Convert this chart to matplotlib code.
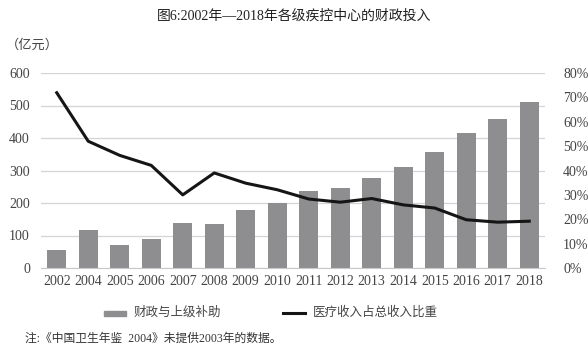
import numpy as np
import matplotlib.pyplot as plt

years = ["2002", "2004", "2005", "2006", "2007", "2008", "2009", "2010", "2011",
         "2012", "2013", "2014", "2015", "2016", "2017", "2018"]
subsidy = [55, 117, 70, 89, 138, 134, 179, 200, 237, 247, 277, 310, 356, 416, 460, 510]
med_share = [71.9, 52.0, 46.2, 42.1, 30.0, 39.0, 34.8, 32.1, 28.3, 27.0, 28.5,
             25.9, 24.6, 19.8, 18.8, 19.2]

plt.rcParams['font.family'] = ['Liberation Serif', 'Noto Sans CJK SC']

fig = plt.figure(figsize=(5.88, 3.58), dpi=100)
ax = fig.add_axes([41/588, 1 - 268/358, 504/588, 195/358])
ax2 = ax.twinx()

x = np.arange(len(years))
ax.bar(x, subsidy, width=0.6, color="#8e8e90", zorder=2)
ax.set_ylim(0, 600)
ax.set_yticks(range(0, 601, 100))
ax.yaxis.grid(True, color="#d4d4d4", linewidth=0.9)
ax.set_axisbelow(True)
ax.set_xlim(-0.5, len(years) - 0.5)
ax.set_xticks(x)
ax.set_xticklabels(years)

ax2.plot(x, med_share, color="#151515", linewidth=2.2)
ax2.set_ylim(0, 80)
ax2.set_yticks(range(0, 81, 10))
ax2.set_yticklabels([f"{v}%" for v in range(0, 81, 10)])

for a in (ax, ax2):
    for s in a.spines.values():
        s.set_visible(False)
    a.tick_params(length=0, labelsize=10, colors="#444444")
ax.spines['bottom'].set_visible(True)
ax.spines['bottom'].set_color("#c8c8c8")
ax.tick_params(axis='y', pad=8)
ax.tick_params(axis='x', pad=5)
ax2.tick_params(axis='y', pad=13)

fig.text(0.5, 1 - 16/358, "图6:2002年—2018年各级疾控中心的财政投入", ha="center", va="center",
         fontsize=10, color="#222222")
fig.text(6/588, 1 - 45/358, "（亿元）", ha="left", va="center", fontsize=9.5, color="#444444")

# legend
fig.patches.append(plt.Rectangle((104/588, 1 - 316/358), 22/588, 5/358,
                                 transform=fig.transFigure, color="#8e8e90"))
fig.text(134/588, 1 - 313/358, "财政与上级补助", ha="left", va="center", fontsize=9, color="#444444")
fig.lines.append(plt.Line2D([283/588, 305/588], [1 - 313/358, 1 - 313/358],
                            transform=fig.transFigure, color="#151515", linewidth=2.2))
fig.text(313/588, 1 - 313/358, "医疗收入占总收入比重", ha="left", va="center", fontsize=9, color="#444444")

fig.text(25/588, 1 - 339/358, "注:《中国卫生年鉴  2004》未提供2003年的数据。", ha="left", va="center",
         fontsize=8.5, color="#333333")

fig.savefig("out.png", dpi=100, facecolor="white")
